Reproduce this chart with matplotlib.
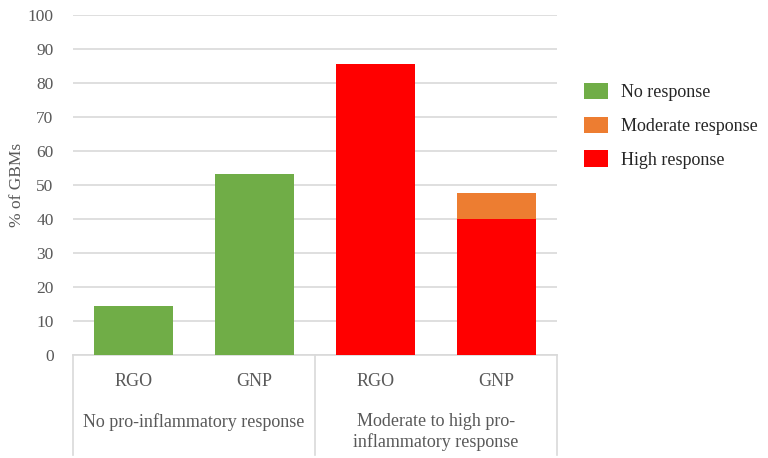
import matplotlib
matplotlib.use('Agg')
import matplotlib.pyplot as plt
import numpy as np

# data
bar_labels = ['RGO', 'GNP', 'RGO', 'GNP']
group_labels = ['No pro-inflammatory response', 'Moderate to high pro-\ninflammatory response']
no_response = [14.3, 53.3, 0, 0]
moderate_response = [0, 0, 0, 7.7]
high_response = [0, 0, 85.7, 40.0]
series_names = ['No response', 'Moderate response', 'High response']
colors = ['#70AD47', '#ED7D31', '#FF0000']

plt.rcParams['font.family'] = ['Liberation Serif', 'DejaVu Serif']

fig = plt.figure(figsize=(7.68, 4.58), dpi=100)
ax = fig.add_axes([0.095, 0.225, 0.63, 0.742])

x = np.arange(len(bar_labels))
w = 0.65
ax.bar(x, no_response, w, color=colors[0], label=series_names[0], zorder=3)
bottom = np.array(no_response) + np.array(high_response)
ax.bar(x, high_response, w, bottom=no_response, color=colors[2], label=series_names[2], zorder=3)
ax.bar(x, moderate_response, w, bottom=bottom, color=colors[1], label=series_names[1], zorder=3)

ax.set_xlim(-0.5, 3.5)
ax.set_ylim(0, 100)
ax.set_yticks(np.arange(0, 101, 10))
ax.yaxis.grid(True, color='#d9d9d9', linewidth=1.2, zorder=0)
ax.tick_params(axis='y', length=0, labelsize=12.5, labelcolor='#595959', pad=14)
ax.tick_params(axis='x', length=0, labelbottom=False)
for s in ['top', 'right', 'left']:
    ax.spines[s].set_visible(False)
ax.spines['bottom'].set_color('#d9d9d9')
ax.spines['bottom'].set_linewidth(1.2)
ax.set_ylabel('% of GBMs', fontsize=12.5, color='#595959', labelpad=2)

# category table below axis
trans = ax.get_xaxis_transform()
for xv in [-0.5, 1.5, 3.5]:
    ax.plot([xv, xv], [0, -0.294], transform=trans, color='#d9d9d9', lw=1.2, clip_on=False)
for xi, lab in zip(x, bar_labels):
    ax.text(xi, -0.077, lab, transform=trans, ha='center', va='center', fontsize=13, color='#595959')
ax.text(0.5, -0.197, group_labels[0], transform=trans, ha='center', va='center', fontsize=13, color='#595959')
ax.text(2.5, -0.17, group_labels[1], transform=trans, ha='center', va='top', fontsize=13,
        color='#595959', linespacing=1.25)

handles, labels = ax.get_legend_handles_labels()
order = [0, 2, 1]
leg = fig.legend([handles[i] for i in order], [labels[i] for i in order],
                 loc='upper left', bbox_to_anchor=(0.739, 0.855), frameon=False,
                 fontsize=13, handlelength=1.35, handleheight=1.05, labelspacing=0.85,
                 handletextpad=0.7)
for t in leg.get_texts():
    t.set_color('#262626')

fig.savefig('out.png', dpi=100)
